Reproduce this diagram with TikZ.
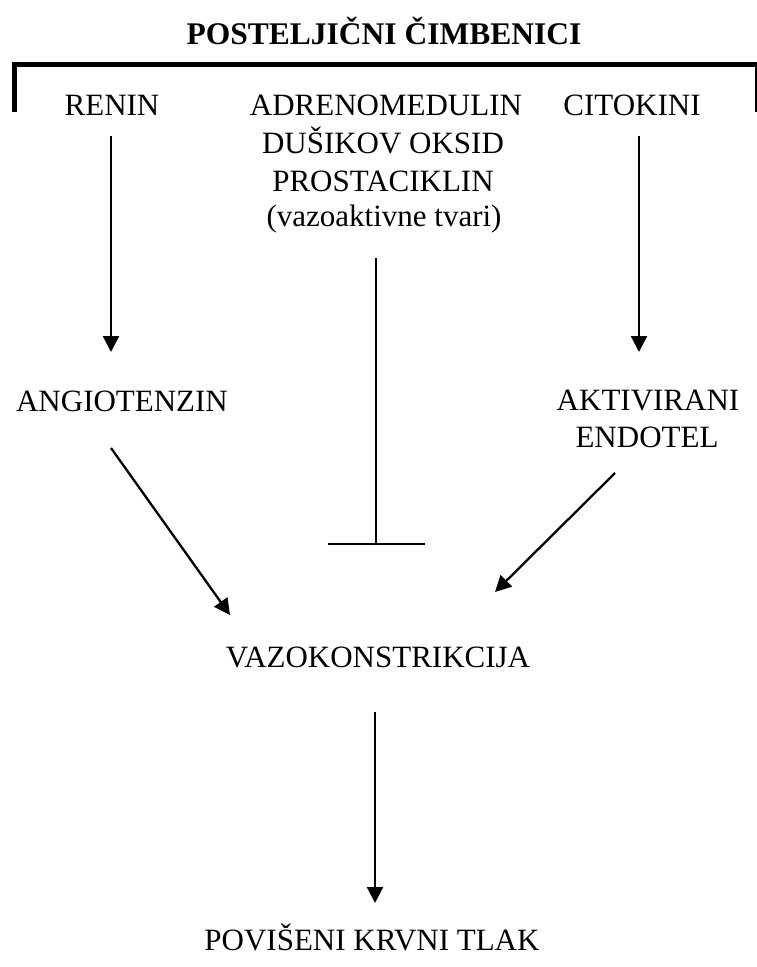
\documentclass[tikz,border=0pt]{standalone}
\usepackage{fontspec}
\setmainfont{Liberation Serif}
\usetikzlibrary{positioning,arrows.meta}

\begin{document}
\begin{tikzpicture}[x=1pt,y=-1pt]
	\tikzstyle{every node}+=[inner sep=0pt, anchor=base, font=\fontsize{31}{37.5}\selectfont]
	\tikzstyle{arr}=[line width=2.3pt, -{Triangle[length=16pt,width=16pt]}]
	\tikzstyle{block}=[line width=2.3pt, -{Bar[width=97pt]}]
	\useasboundingbox (0,0) rectangle (757,967);
	% heading and bracket
	\node[font=\fontsize{31.5}{37.5}\selectfont\bfseries] (title) at (384,44) {POSTELJIČNI ČIMBENICI};
	\draw[line width=5pt] (14.5,112) -- (14.5,64.5) -- (757,64.5) -- (757,112);
	% factors
	\node (renin) at (112,115) {RENIN};
	\node (adreno) at (386,115) {ADRENOMEDULIN};
	\node (dusik) at (383,153) {DUŠIKOV OKSID};
	\node (prosta) at (383,191) {PROSTACIKLIN};
	\node (vazoakt) at (384,226) {(vazoaktivne tvari)};
	\node (citokini) at (632,115) {CITOKINI};
	\node (angio) at (122,411) {ANGIOTENZIN};
	\node (aktiv) at (648,410) {AKTIVIRANI};
	\node (endotel) at (647,447) {ENDOTEL};
	\node (vazokon) at (378,667) {VAZOKONSTRIKCIJA};
	\node (tlak) at (372,950) {POVIŠENI KRVNI TLAK};
	% connector ends
	\coordinate (reninOut) at (111,136);
	\coordinate (angioIn) at (111,352);
	\coordinate (citoOut) at (639,136);
	\coordinate (aktivIn) at (639,352);
	\coordinate (angioOut) at (111,448);
	\coordinate (vazoInL) at (230,615);
	\coordinate (endoOut) at (615,473);
	\coordinate (vazoInR) at (495,592);
	\coordinate (vazoaktOut) at (376,258);
	\coordinate (blockEnd) at (376,545);
	\coordinate (vazoOut) at (375,712);
	\coordinate (tlakIn) at (375,903);
	% connectors
	\draw[arr] (reninOut) -- (angioIn);
	\draw[arr] (citoOut) -- (aktivIn);
	\draw[arr] (angioOut) -- (vazoInL);
	\draw[arr] (endoOut) -- (vazoInR);
	\draw[block] (vazoaktOut) -- (blockEnd);
	\draw[arr] (vazoOut) -- (tlakIn);
\end{tikzpicture}
\end{document}
